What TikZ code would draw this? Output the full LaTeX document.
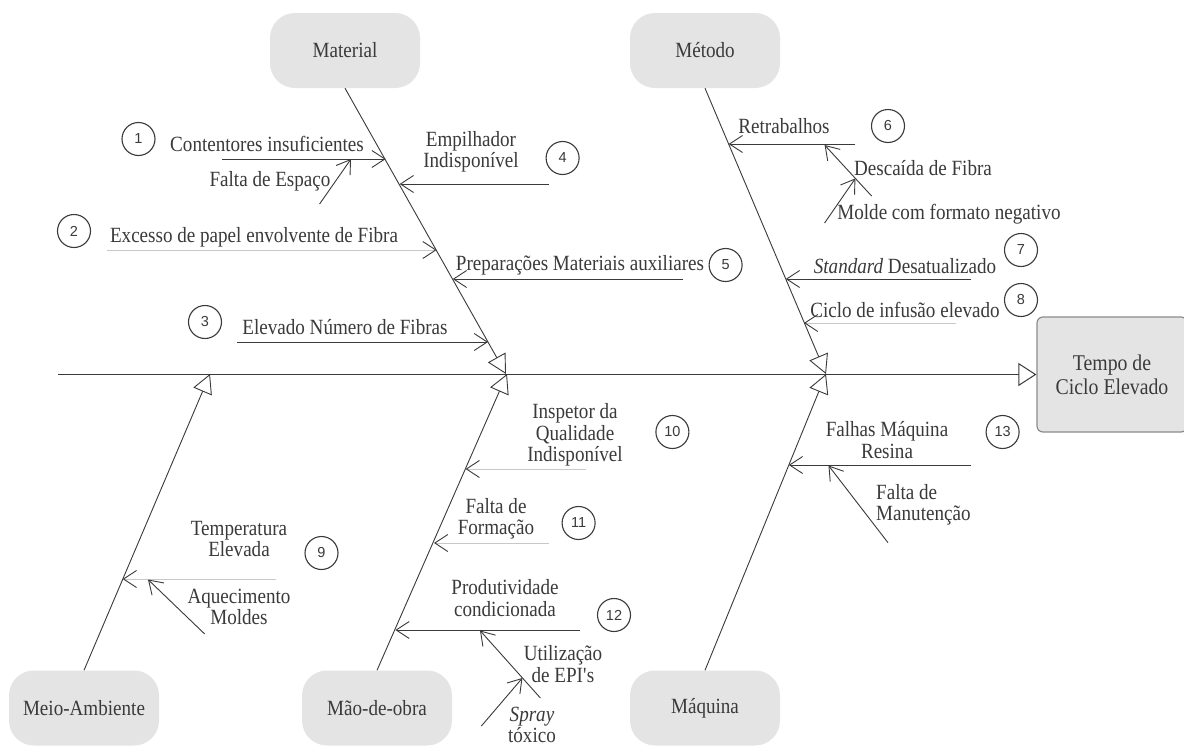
\documentclass[tikz,border=0pt]{standalone}
\usepackage{fontspec}
\setmainfont{Liberation Serif}[FakeStretch=0.88]
\newfontfamily\numfont{Liberation Sans}
\usetikzlibrary{arrows.meta}
\definecolor{ink}{HTML}{3A3A3A}
\definecolor{faint}{HTML}{C8C8C8}
\definecolor{boxfill}{HTML}{E4E4E4}
\definecolor{boxedge}{HTML}{8C8C8C}
\newcommand{\txt}{\fontsize{21.7}{21.5}\selectfont}
\tikzset{
  cat/.style={fill=boxfill, rounded corners=25pt, minimum width=150pt,
    minimum height=75pt, inner sep=0pt, text=ink, font=\txt},
  effect/.style={fill=boxfill, draw=boxedge, line width=1.2pt,
    rounded corners=6pt, minimum width=150pt, minimum height=115pt,
    align=center, text=ink, font=\fontsize{22.5}{24}\selectfont},
  spine/.style={draw=ink, line width=1pt,
    -{Triangle[open, length=18pt, width=23pt, line width=1pt]}},
  bone/.style={draw=ink, line width=0.9pt,
    -{Triangle[open, length=19pt, width=20pt, line width=0.9pt]}},
  cause/.style={draw=ink, line width=0.9pt,
    -{Straight Barb[length=13pt, width=17pt]}},
  faintcause/.style={draw=faint, line width=0.9pt,
    -{Straight Barb[length=13pt, width=17pt, color=ink]}},
  lbl/.style={text=ink, align=center, inner sep=0pt, font=\txt},
  num/.style={circle, draw=ink, line width=1.1pt, minimum size=33pt,
    inner sep=0pt, font=\numfont\fontsize{14.5}{14.5}\selectfont, text=ink},
}
\begin{document}
\begin{tikzpicture}[x=1pt, y=-1pt]
\useasboundingbox (0,0) rectangle (1184,747);
\fill[white] (0,0) rectangle (1184,747);
\clip (0,0) rectangle (1184,747);

% category boxes and effect
\node[cat] (mat) at (345,50.5) {Material};
\node[cat] (met) at (705,50.5) {Método};
\node[cat] (amb) at (84,708) {Meio-Ambiente};
\node[cat] (mao) at (377,708) {Mão-de-obra};
\node[cat] (maq) at (705,708) {Máquina};
\node[effect] (tempo) at (1112,374.5) {Tempo de\\Ciclo Elevado};

% spine and main bones
\coordinate (tail) at (58,374.5);
\coordinate (jMat) at (506,374);
\coordinate (jMet) at (826,374);
\coordinate (jAmb) at (210,374);
\coordinate (jMao) at (507,374);
\coordinate (jMaq) at (826,374);
\draw[spine] (tail) -- (tempo.west);
\draw[bone] (mat.south) -- (jMat);
\draw[bone] (met.south) -- (jMet);
\draw[bone] (amb.north) -- (jAmb);
\draw[bone] (mao.north) -- (jMao);
\draw[bone] (maq.north) -- (jMaq);

% ---- Material ----
\coordinate (c1a) at (222,159);   \coordinate (c1b) at (385.7,159);
\coordinate (c1sa) at (319.6,204); \coordinate (c1sb) at (351,159);
\coordinate (c2a) at (107,250);   \coordinate (c2b) at (436.6,250);
\coordinate (c3a) at (237,342);   \coordinate (c3b) at (488,342);
\coordinate (c4a) at (549,184);   \coordinate (c4b) at (399.7,184);
\coordinate (c5a) at (683,279);   \coordinate (c5b) at (452.8,279);
\draw[cause] (c1a) -- (c1b);
\draw[cause] (c1sa) -- (c1sb);
\draw[faintcause] (c2a) -- (c2b);
\draw[cause] (c3a) -- (c3b);
\draw[cause] (c4a) -- (c4b);
\draw[cause] (c5a) -- (c5b);
\node[lbl] (t1) at (267,144) {Contentores insuficientes};
\node[lbl] (t1s) at (270,181) {Falta de Espaço};
\node[lbl] (t2) at (254,237) {Excesso de papel envolvente de Fibra};
\node[lbl] (t3) at (345,327) {Elevado Número de Fibras};
\node[lbl] (t4) at (471,152) {Empilhador\\Indisponível};
\node[lbl] (t5) at (580,265) {Preparações Materiais auxiliares};

% ---- Método ----
\coordinate (c6a) at (855,144);   \coordinate (c6b) at (728.7,144);
\coordinate (c6sa) at (871.6,196); \coordinate (c6sb) at (824.6,145);
\coordinate (c6ta) at (824.6,223); \coordinate (c6tb) at (855.4,178.4);
\coordinate (c7a) at (971,279);   \coordinate (c7b) at (785.8,279);
\coordinate (c8a) at (955.6,323); \coordinate (c8b) at (804,323);
\draw[cause] (c6a) -- (c6b);
\draw[cause] (c6sa) -- (c6sb);
\draw[cause] (c6ta) -- (c6tb);
\draw[cause] (c7a) -- (c7b);
\draw[faintcause] (c8a) -- (c8b);
\node[lbl] (t6) at (784,126) {Retrabalhos};
\node[lbl] (t6s) at (923,168) {Descaída de Fibra};
\node[lbl] (t6t) at (949,214) {Molde com formato negativo};
\node[lbl] (t7) at (905,266) {\textit{Standard} Desatualizado};
\node[lbl] (t8) at (905,310) {Ciclo de infusão elevado};

% ---- Meio-Ambiente ----
\coordinate (c9a) at (275.5,579); \coordinate (c9b) at (122.7,579);
\coordinate (c9sa) at (204.7,634); \coordinate (c9sb) at (148,579.5);
\draw[faintcause] (c9a) -- (c9b);
\draw[cause] (c9sa) -- (c9sb);
\node[lbl] (t9) at (239,539) {Temperatura\\Elevada};
\node[lbl] (t9s) at (239,607) {Aquecimento\\Moldes};

% ---- Mão-de-obra ----
\coordinate (c10a) at (585.5,469); \coordinate (c10b) at (465.6,469);
\coordinate (c11a) at (549,543);   \coordinate (c11b) at (434,543);
\coordinate (c12a) at (580,630);   \coordinate (c12b) at (395.4,630);
\coordinate (c12sa) at (540.4,698); \coordinate (c12sb) at (480,630.5);
\coordinate (c12ta) at (481.4,726); \coordinate (c12tb) at (522.4,678);
\draw[faintcause] (c10a) -- (c10b);
\draw[faintcause] (c11a) -- (c11b);
\draw[cause] (c12a) -- (c12b);
\draw[cause] (c12sa) -- (c12sb);
\draw[cause] (c12ta) -- (c12tb);
\node[lbl] (t10) at (575,435) {Inspetor da\\Qualidade\\Indisponível};
\node[lbl] (t11) at (496,519) {Falta de\\Formação};
\node[lbl] (t12) at (505,598) {Produtividade\\condicionada};
\node[lbl] (t12s) at (563,664) {Utilização\\de EPI\textquotesingle s};
\node[lbl] (t12t) at (532,725) {\textit{Spray}\\tóxico};

% ---- Máquina ----
\coordinate (c13a) at (971,465);   \coordinate (c13b) at (788.8,465);
\coordinate (c13sa) at (888,542.7); \coordinate (c13sb) at (828.5,465.5);
\draw[cause] (c13a) -- (c13b);
\draw[cause] (c13sa) -- (c13sb);
\node[lbl] (t13) at (887,440) {Falhas Máquina\\Resina};
\node[lbl, align=left, anchor=west] (t13s) at (876,505) {Falta de\\Manutenção};

% numbered markers
\node[num] (n1) at (138.5,139) {1};
\node[num] (n2) at (74,231) {2};
\node[num] (n3) at (205,322) {3};
\node[num] (n4) at (562.6,158) {4};
\node[num] (n5) at (725.6,265) {5};
\node[num] (n6) at (888,126) {6};
\node[num] (n7) at (1021,250) {7};
\node[num] (n8) at (1021,300) {8};
\node[num] (n9) at (321.5,553) {9};
\node[num] (n10) at (672.4,432) {10};
\node[num] (n11) at (578.6,523) {11};
\node[num] (n12) at (614,615) {12};
\node[num] (n13) at (1002.6,432) {13};
\end{tikzpicture}
\end{document}
